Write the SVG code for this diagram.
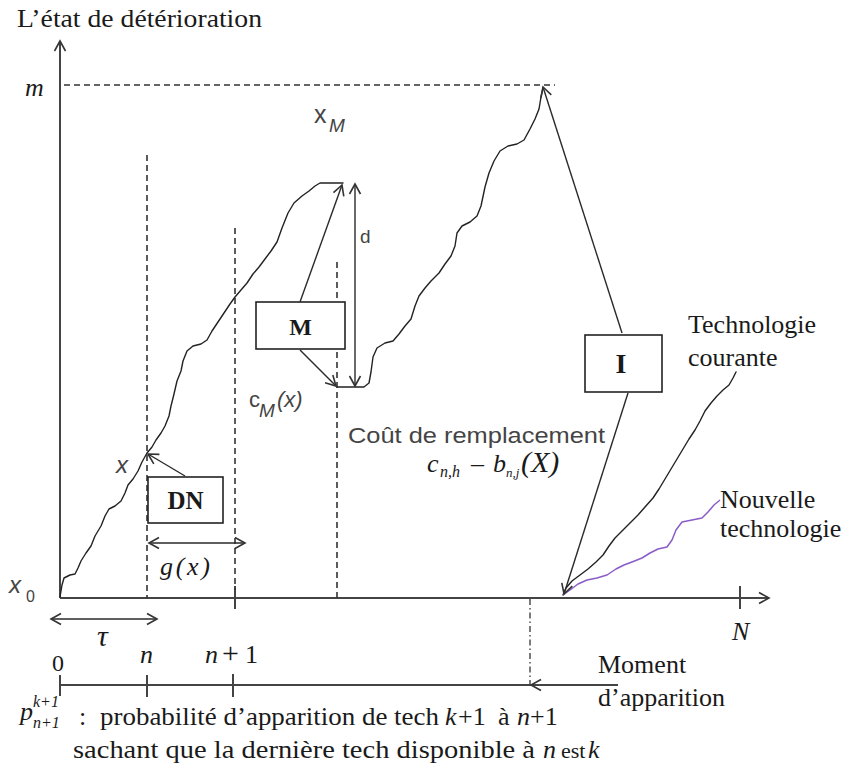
<svg xmlns="http://www.w3.org/2000/svg" width="847" height="767" viewBox="0 0 847 767">
<defs>
<marker id="ah" markerUnits="userSpaceOnUse" markerWidth="14" markerHeight="14" refX="11" refY="6" orient="auto-start-reverse" viewBox="0 0 14 12">
<path d="M1,0.5 L11,6 L1,11.5" fill="none" stroke="#333" stroke-width="1.6"/>
</marker>
</defs>
<style>
.ser{font-family:"Liberation Serif","Times New Roman",serif;font-size:26px;fill:#1a1a1a}
.it{font-style:italic}
.up{font-style:normal}
.bold{font-weight:bold}
.sans{font-family:"Liberation Sans",Arial,sans-serif;fill:#444}
.axis{stroke:#444;stroke-width:2;fill:none}
.line{stroke:#2a2a2a;stroke-width:1.4;fill:none}
.dash{stroke:#333;stroke-width:1.6;stroke-dasharray:6 4;fill:none}
.curve{stroke:#222;stroke-width:1.4;fill:none;stroke-linejoin:round;stroke-linecap:round}
.box{fill:#fff;stroke:#222;stroke-width:1.6}
</style>
<rect width="847" height="767" fill="#fff"/>

<!-- axes -->
<g id="axes">
<line class="axis" x1="60" y1="598" x2="60" y2="41" marker-end="url(#ah)"/>
<line class="axis" x1="60" y1="598" x2="769" y2="598" marker-end="url(#ah)"/>
<line class="axis" x1="740" y1="586" x2="740" y2="609"/>
<line class="axis" x1="235" y1="586" x2="235" y2="609"/>
<line class="dash" x1="64" y1="85" x2="555" y2="85"/>
<line class="dash" x1="147" y1="155" x2="147" y2="598"/>
<line class="dash" x1="235" y1="228" x2="235" y2="590"/>
<line class="dash" x1="337" y1="262" x2="337" y2="598"/>
<line x1="530" y1="599" x2="530" y2="684" stroke="#444" stroke-width="1.4" stroke-dasharray="6 3 1.5 3"/>
<!-- bottom timeline -->
<line class="axis" x1="60" y1="685" x2="531" y2="685"/>
<line class="axis" x1="60" y1="675" x2="60" y2="696"/>
<line class="axis" x1="147" y1="675" x2="147" y2="697"/>
<line class="axis" x1="233" y1="674" x2="233" y2="697"/>
</g>

<!-- degradation curves -->
<g id="curves">
<path class="curve" d="M60,597 L62,585 L64,578 L70,575 L75,574 L78,568 L81,561 L86,553 L91,546 L95,536 L101,526 L105,516 L109,509 L115,506 L121,501 L125,493 L128,485 L133,479 L138,471 L142,462 L147,453 L152,447 L156,440 L161,433 L165,426 L169,416 L171,406 L174,394 L177,381 L181,371 L183,361 L187,351 L193,346 L201,344 L207,340 L212,331 L218,322 L224,313 L230,304 L235,297 L241,290 L247,283 L253,274 L259,267 L265,259 L271,251 L277,242 L282,228 L288,213 L294,203 L302,196 L309,191 L315,186 L320,183 L343,183"/>
<path class="curve" d="M337,387 L364,387 L369,383 L371,372 L373,357 L377,348 L385,343 L393,341 L399,334 L405,326 L411,319 L415,306 L419,296 L425,288 L431,281 L439,273 L445,264 L451,256 L455,246 L457,233 L462,226 L470,222 L477,216 L481,206 L485,187 L489,173 L494,161 L500,151 L508,146 L517,144 L524,140 L530,129 L535,119 L539,109 L541,97 L543,88"/>
<path class="curve" d="M563,595 L566,588 L572,581 L580,575 L588,569 L596,562 L603,555 L609,546 L615,538 L622,531 L630,523 L638,515 L645,507 L653,498 L659,489 L665,479 L671,469 L677,459 L683,449 L689,439 L695,430 L700,421 L705,411 L711,403 L717,396 L723,390 L729,385 L733,378 L736,372"/>
<path d="M563,595 L570,590 L578,584 L587,580 L597,578 L607,575 L616,569 L624,565 L632,562 L642,558 L650,553 L658,549 L667,547 L672,540 L676,530 L682,522 L692,520 L702,518 L708,512 L714,505 L720,500" fill="none" stroke="#8a5cc8" stroke-width="1.5" stroke-linejoin="round"/>
</g>

<!-- connectors -->
<g id="connectors">
<line class="line" x1="300" y1="302" x2="342" y2="185" marker-end="url(#ah)"/>
<line class="line" x1="300" y1="350" x2="336" y2="386" marker-end="url(#ah)"/>
<line class="line" x1="355" y1="184" x2="355" y2="386" marker-start="url(#ah)" marker-end="url(#ah)"/>
<line class="line" x1="622" y1="333" x2="543" y2="87" marker-end="url(#ah)"/>
<line class="line" x1="628" y1="393" x2="564" y2="594" marker-end="url(#ah)"/>
<line class="line" x1="185" y1="476" x2="148" y2="454" marker-end="url(#ah)"/>
<line class="line" x1="149" y1="543" x2="245" y2="543" marker-start="url(#ah)" marker-end="url(#ah)"/>
<line class="line" x1="51" y1="619" x2="157" y2="619" marker-start="url(#ah)" marker-end="url(#ah)"/>
<line class="axis" x1="618" y1="685" x2="531" y2="685" marker-end="url(#ah)"/>
</g>

<!-- nodes -->
<g id="node-DN">
<rect class="box" x="148" y="477" width="75" height="46"/>
<text class="ser bold" x="185.5" y="509" style="font-size:25px" text-anchor="middle">DN</text>
</g>
<g id="node-M">
<rect class="box" x="256" y="302" width="89" height="47"/>
<text class="ser bold" x="300.5" y="335" style="font-size:24px" text-anchor="middle">M</text>
</g>
<g id="node-I">
<rect class="box" x="585" y="335" width="77" height="57"/>
<text class="ser bold" x="621" y="373" style="font-size:28px" text-anchor="middle">I</text>
</g>

<!-- labels -->
<g id="labels">
<text class="ser" x="17" y="27" textLength="245" lengthAdjust="spacingAndGlyphs">L’état de détérioration</text>
<text class="ser it" x="25" y="96" fill="#1f2f66">m</text>
<text class="sans it" x="9" y="593" font-size="24">x<tspan class="up" x="26" y="602" font-size="16">0</tspan></text>
<text class="sans it" x="116" y="473" font-size="24" fill="#222">x</text>
<text class="sans" x="314" y="123" font-size="25">x<tspan class="it" x="329" y="132" font-size="19">M</tspan></text>
<text class="sans" x="360" y="243" font-size="19" fill="#333">d</text>
<text class="sans" x="249" y="407" font-size="22">c<tspan class="it" x="259" y="417" font-size="19">M</tspan><tspan class="it" x="277" y="407">(x)</tspan></text>
<text class="sans" x="348" y="443" font-size="22" fill="#2a2a2a" textLength="257" lengthAdjust="spacingAndGlyphs">Coût de remplacement</text>
<text class="ser it" x="427" y="472">c<tspan x="440" y="477" font-size="16">n,h</tspan><tspan class="up" x="471" y="472">–</tspan><tspan x="493" y="472">b</tspan><tspan x="506" y="477" font-size="13">n,j</tspan><tspan x="521" y="472" font-size="30">(X)</tspan></text>
<text class="ser it" x="160" y="575" textLength="50" lengthAdjust="spacing">g(x)</text>
<text class="ser it" x="97" y="646" style="font-size:30px">τ</text>
<text class="ser it" x="732" y="640">N</text>
<text class="ser" x="688" y="333">Technologie</text>
<text class="ser" x="688" y="366">courante</text>
<text class="ser" x="720" y="508">Nouvelle</text>
<text class="ser" x="720" y="537">technologie</text>
<text class="ser" x="598" y="673">Moment</text>
<text class="ser" x="598" y="706">d’apparition</text>
<text class="ser" x="52" y="671" style="font-size:24px">0</text>
<text class="ser it" x="140" y="663">n</text>
<text class="ser it" x="205" y="663">n<tspan class="up" x="222" font-size="30">+</tspan><tspan class="up" x="245">1</tspan></text>
<text class="ser it" x="20" y="720" fill="#1f2f66">p<tspan x="33" y="707" font-size="16">k+1</tspan><tspan x="33" y="728" font-size="16">n+1</tspan></text>
<text class="ser" x="79" y="725" fill="#3a6aa8">:</text>
<text class="ser" x="100" y="725" textLength="339" lengthAdjust="spacingAndGlyphs">probabilité d’apparition de tech</text>
<text class="ser it" x="445" y="725">k<tspan class="up" x="458">+1</tspan><tspan class="up" x="498">à</tspan><tspan x="517">n</tspan><tspan class="up" x="530">+1</tspan></text>
<text class="ser" x="73" y="758" textLength="462" lengthAdjust="spacingAndGlyphs">sachant que la dernière tech disponible à</text>
<text class="ser it" x="543" y="758">n<tspan class="up" x="561" font-size="22">est</tspan><tspan x="588">k</tspan></text>
</g>
</svg>
